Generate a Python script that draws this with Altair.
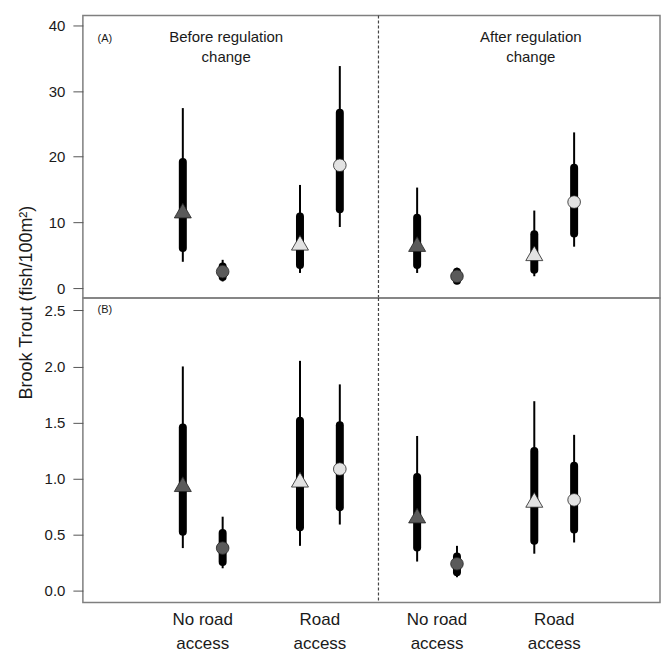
import altair as alt
import pandas as pd

# ---- data ----
groups = [1, 2, 3, 4]
access = ["No road", "Road", "No road", "Road"]
period = ["Before", "Before", "After", "After"]
series = ["Series 1", "Series 2"]          # triangle, circle
x_label_line1 = ["No road", "Road", "No road", "Road"]
x_label_line2 = ["access", "access", "access", "access"]

# order: g1-s1, g1-s2, g2-s1, g2-s2, g3-s1, g3-s2, g4-s1, g4-s2
a_mid = [11.8, 2.5, 6.9, 18.7, 6.7, 1.8, 5.3, 13.1]
a_lo50 = [6.1, 1.7, 3.5, 12.0, 3.5, 1.1, 2.8, 8.3]
a_hi50 = [19.2, 3.3, 10.9, 26.7, 10.7, 2.5, 8.2, 18.3]
a_lo95 = [4.0, 1.0, 2.3, 9.3, 2.3, 0.6, 1.8, 6.3]
a_hi95 = [27.4, 4.3, 15.7, 33.8, 15.3, 3.1, 11.8, 23.7]

b_mid = [0.95, 0.38, 0.99, 1.085, 0.67, 0.24, 0.81, 0.81]
b_lo50 = [0.525, 0.255, 0.565, 0.745, 0.385, 0.165, 0.445, 0.545]
b_hi50 = [1.455, 0.515, 1.515, 1.475, 1.015, 0.305, 1.245, 1.115]
b_lo95 = [0.38, 0.20, 0.40, 0.59, 0.26, 0.12, 0.33, 0.43]
b_hi95 = [2.0, 0.66, 2.05, 1.84, 1.38, 0.40, 1.69, 1.39]

a_ticks = [0, 10, 20, 30, 40]
b_ticks = [0.0, 0.5, 1.0, 1.5, 2.0, 2.5]

headers = ["Before regulation", "After regulation"]
headers2 = ["change", "change"]
header_x = [1.2, 3.8]
divider_x = 2.5
letter_x = 0.165

FONT = "Liberation Sans"
OFFSET = 0.17
TXT = "#1a1a1a"
WIDTH = 578


def build(mid, lo50, hi50, lo95, hi95, letter, with_headers, with_xlabels):
    rows = []
    for i in range(8):
        g = i // 2
        s = i % 2
        rows.append({
            "role": "est",
            "x": groups[g] + (-OFFSET if s == 0 else OFFSET),
            "access": access[g], "series": series[s], "text": "",
            "mid": mid[i], "lo50": lo50[i], "hi50": hi50[i],
            "lo95": lo95[i], "hi95": hi95[i],
        })
    empty = {"access": "", "series": "", "mid": 0.0, "lo50": 0.0, "hi50": 0.0,
             "lo95": 0.0, "hi95": 0.0}
    rows.append(dict(role="div", x=divider_x, text="", **empty))
    rows.append(dict(role="letter", x=letter_x, text=letter, **empty))
    if with_headers:
        for hx, t1, t2 in zip(header_x, headers, headers2):
            rows.append(dict(role="head1", x=hx, text=t1, **empty))
            rows.append(dict(role="head2", x=hx, text=t2, **empty))
    if with_xlabels:
        for gx, t1, t2 in zip(groups, x_label_line1, x_label_line2):
            rows.append(dict(role="xl1", x=float(gx), text=t1, **empty))
            rows.append(dict(role="xl2", x=float(gx), text=t2, **empty))
    return pd.DataFrame(rows)


xscale = alt.Scale(domain=[-0.023, 4.903], nice=False, zero=False)
fill_scale = alt.Scale(domain=["No road", "Road"], range=["#5a5a5a", "#e2e2e2"])


def panel(df, ydom, yticks, fmt, height, letter_y, header_y=None, xlabel_y=None, ytitle=None):
    yscale = alt.Scale(domain=ydom, nice=False, zero=False)
    if ytitle:
        yaxis = alt.Axis(title=ytitle, values=yticks, format=fmt, titleX=-56, titleY=4,
                         titleAlign="center", titleBaseline="middle")
    else:
        yaxis = alt.Axis(title=None, values=yticks, format=fmt)
    X = alt.X("x:Q", scale=xscale, axis=None)

    base = alt.Chart(df)
    est = base.transform_filter(alt.datum.role == "est")

    def Y(field):
        return alt.Y(field, type="quantitative", scale=yscale, axis=yaxis)

    divider = base.transform_filter(alt.datum.role == "div").mark_rule(
        color="#444444", strokeWidth=1.2, strokeDash=[3, 2]
    ).encode(x=X)
    thin = est.mark_rule(color="black", strokeWidth=2).encode(
        x=X, y=Y("lo95"), y2="hi95")
    thick = est.mark_rule(color="black", strokeWidth=8, strokeCap="round").encode(
        x=X, y=Y("lo50"), y2="hi50")
    tri = est.transform_filter(alt.datum.series == series[0]).mark_point(
        filled=True, shape="triangle-up", size=290, stroke="#222222", strokeWidth=0.8, opacity=1
    ).encode(x=X, y=Y("mid"), fill=alt.Fill("access:N", scale=fill_scale, legend=None))
    circ = est.transform_filter(alt.datum.series == series[1]).mark_point(
        filled=True, shape="circle", size=160, stroke="#222222", strokeWidth=0.8, opacity=1
    ).encode(x=X, y=Y("mid"), fill=alt.Fill("access:N", scale=fill_scale, legend=None))

    def txt(role, ypix, size):
        return base.transform_filter(alt.datum.role == role).mark_text(
            fontSize=size, font=FONT, color=TXT, align="center", baseline="middle"
        ).encode(x=X, y=alt.value(ypix), text="text:N")

    layers = [divider, thin, thick, tri, circ, txt("letter", letter_y, 11)]
    if header_y is not None:
        layers += [txt("head1", header_y[0], 15), txt("head2", header_y[1], 15)]
    if xlabel_y is not None:
        layers += [txt("xl1", xlabel_y[0], 17), txt("xl2", xlabel_y[1], 17)]
    return alt.layer(*layers).properties(width=WIDTH, height=height)


dfa = build(a_mid, a_lo50, a_hi50, a_lo95, a_hi95, "(A)", True, False)
dfb = build(b_mid, b_lo50, b_hi50, b_lo95, b_hi95, "(B)", False, True)

pa = panel(dfa, [-1.52, 41.5], a_ticks, "d", 283, 24, header_y=(22, 42))
pb = panel(dfb, [-0.106, 2.61], b_ticks, ".1f", 305, 11.5, xlabel_y=(322, 346),
           ytitle="Brook Trout (fish/100m²)")

chart = alt.vconcat(pa, pb, spacing=0, bounds="flush").properties(
    padding={"left": 9, "top": 5, "right": 0, "bottom": 0}
).configure_view(stroke="#7f7f7f", strokeWidth=1.5).configure_axis(
    tickSize=10, tickColor="#555555", tickWidth=1, domain=False, grid=False,
    labelFontSize=15, labelPadding=8, labelColor=TXT, labelFont=FONT,
    titleFontSize=18, titleFontWeight="normal", titleFont=FONT, titleColor=TXT,
)

chart.save("out.html", embed_options={"renderer": "svg", "actions": False})
